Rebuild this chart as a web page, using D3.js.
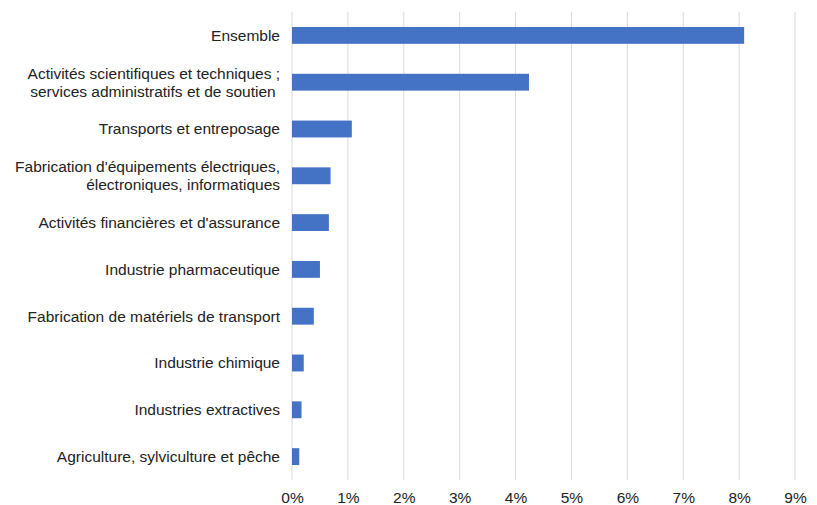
<!DOCTYPE html>
<html><head><meta charset="utf-8">
<script src="https://cdn.jsdelivr.net/npm/d3@7"></script>
<style>body{margin:0;background:#fff}svg{display:block}text{font-family:"Liberation Sans",Arial,sans-serif}</style>
</head><body><svg id="c" width="817" height="505"></svg>
<script>
const categories = [
  ["Ensemble"],
  ["Activités scientifiques et techniques ;", "services administratifs et de soutien "],
  ["Transports et entreposage"],
  ["Fabrication d'équipements électriques,", "électroniques, informatiques"],
  ["Activités financières et d'assurance"],
  ["Industrie pharmaceutique"],
  ["Fabrication de matériels de transport"],
  ["Industrie chimique"],
  ["Industries extractives"],
  ["Agriculture, sylviculture et pêche"]
];
const values = [8.09, 4.24, 1.07, 0.69, 0.66, 0.50, 0.39, 0.21, 0.17, 0.13];
const xTicks = [0,1,2,3,4,5,6,7,8,9];

const svg = d3.select("#c");
const m = {left:292, right:22, top:12, bottom:25};
const W = 817, H = 505;
const x = d3.scaleLinear().domain([0,9]).range([m.left, W - m.right]);
const y = d3.scaleBand().domain(d3.range(values.length)).range([m.top, H - m.bottom]).paddingInner(0.64).paddingOuter(0.32);

svg.append("g").selectAll("line").data(xTicks).join("line")
  .attr("x1", d=>x(d)).attr("x2", d=>x(d))
  .attr("y1", m.top).attr("y2", H - m.bottom)
  .attr("stroke", "#d9d9d9").attr("stroke-width", 1);

svg.append("g").selectAll("rect").data(values).join("rect")
  .attr("x", x(0)).attr("y", (d,i)=>y(i))
  .attr("width", d=>x(d)-x(0)).attr("height", y.bandwidth())
  .attr("fill", "#4472c4");

const xAxis = d3.axisBottom(x).tickValues(xTicks).tickFormat(d=>d+"%").tickSize(0).tickPadding(0);
const gx = svg.append("g").attr("transform", `translate(0,${H - m.bottom + 18})`).call(xAxis);
gx.select(".domain").remove();
gx.selectAll("text").attr("font-size", 15.5).attr("fill", "#222").attr("dy", "0.35em")
  .style("font-family", '"Liberation Sans",Arial,sans-serif');

const lab = svg.append("g");
categories.forEach((lines, i) => {
  const cy = y(i) + y.bandwidth()/2;
  const lh = 18;
  const t = lab.append("text").attr("text-anchor", "end").attr("font-size", 15.5).attr("fill", "#222")
    .style("white-space", "pre");
  lines.forEach((s, k) => {
    t.append("tspan").attr("x", 280).attr("y", cy + (k - (lines.length-1)/2) * lh).attr("dy", "0.35em").text(s);
  });
});
</script></body></html>
